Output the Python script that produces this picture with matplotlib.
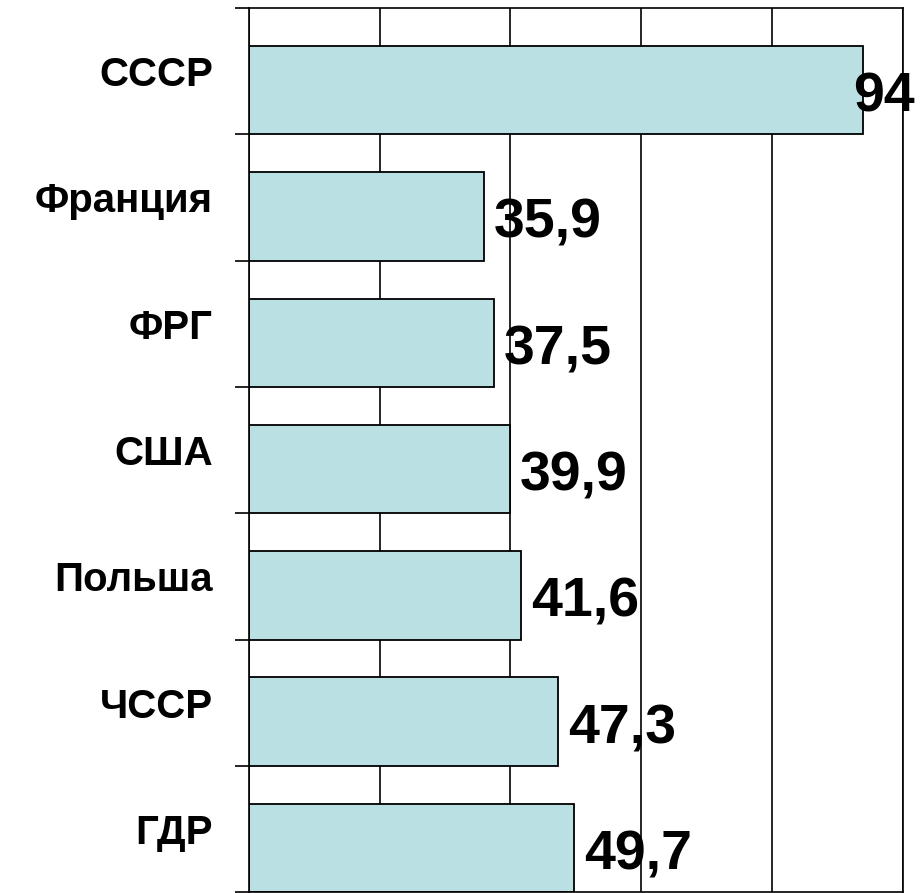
import numpy as np
import matplotlib.pyplot as plt
from matplotlib.ticker import MultipleLocator, FixedLocator

# data
countries = ['СССР', 'Франция', 'ФРГ', 'США', 'Польша', 'ЧССР', 'ГДР']
values = [94, 35.9, 37.5, 39.9, 41.6, 47.3, 49.7]
value_labels = ['94', '35,9', '37,5', '39,9', '41,6', '47,3', '49,7']

plt.rcParams['font.family'] = ['Liberation Sans', 'DejaVu Sans']
plt.rcParams['font.weight'] = 'bold'

fig = plt.figure(figsize=(9.22, 8.93), dpi=100)
ax = fig.add_axes([0.270, 0.001, 0.709, 0.990])

n = len(countries)
pos = np.arange(n)

# bars sit at the bottom part of each category slot
ax.barh(pos + 0.3, values, height=0.7, align='edge',
        color='#BBE0E3', edgecolor='black', linewidth=1.3, zorder=2)

ax.set_xlim(0, 100)
ax.set_ylim(n, 0)

# vertical gridlines every 20
ax.xaxis.set_major_locator(MultipleLocator(20))
ax.grid(axis='x', color='black', linewidth=1.2, zorder=1)
ax.tick_params(axis='x', length=0, labelbottom=False)

# category labels at centres, tick marks at boundaries
ax.yaxis.set_major_locator(FixedLocator(pos + 0.5))
ax.set_yticklabels(countries, fontsize=29, fontweight='bold')
ax.yaxis.set_minor_locator(FixedLocator(np.arange(n + 1)))
ax.tick_params(axis='y', which='major', length=0, pad=26)
ax.tick_params(axis='y', which='minor', length=10, width=1.2, color='black')

for s in ax.spines.values():
    s.set_linewidth(1.2)
    s.set_color('black')

# value labels
for i, (v, lab) in enumerate(zip(values, value_labels)):
    x = min(v + 1.5, 92.5)
    ax.text(x, i + 0.82, lab, fontsize=40, fontweight='bold',
            ha='left', va='baseline', zorder=3, clip_on=False)

fig.savefig('out.png', dpi=100)
